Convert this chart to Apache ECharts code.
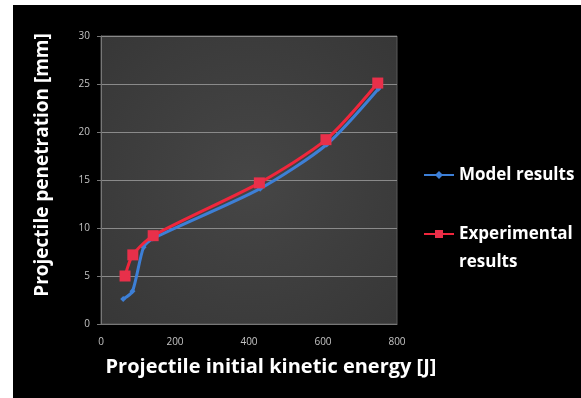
<!DOCTYPE html>
<html><head><meta charset="utf-8">
<script src="https://cdn.jsdelivr.net/npm/echarts@6/dist/echarts.min.js"></script>
<style>
html,body{margin:0;padding:0;background:#fff;width:581px;height:398px;overflow:hidden}
#chart{position:absolute;left:13px;top:5px;width:568px;height:393px}
</style></head><body>
<div id="chart"></div>
<script>
const xTicks = [0, 200, 400, 600, 800];
const yTicks = [0, 5, 10, 15, 20, 25, 30];
const modelEnergy = [60, 85, 115, 140, 430, 610, 750];
const modelPen = [2.6, 3.4, 8.0, 8.9, 14.1, 18.7, 24.5];
const expEnergy = [65, 86, 141, 428, 608, 748];
const expPen = [5.0, 7.2, 9.2, 14.7, 19.2, 25.1];
const seriesNames = ['Model results', 'Experimental results'];

const chart = echarts.init(document.getElementById('chart'));
const titleFont = '"Open Sans", Lato, sans-serif';
const legendText = { color: '#fff', fontFamily: titleFont, fontWeight: 'bold', fontSize: 17, lineHeight: 28 };
chart.setOption({
  backgroundColor: '#000',
  animation: false,
  grid: {
    left: 88, top: 31, right: 184, bottom: 74,
    show: true,
    borderColor: '#5a5a5a', borderWidth: 1,
    backgroundColor: {
      type: 'radial', x: 0.5, y: 0.5, r: 0.75,
      colorStops: [{offset: 0, color: '#464646'}, {offset: 1, color: '#363636'}]
    }
  },
  legend: [
    {
      orient: 'vertical', left: 405, top: 151,
      itemWidth: 30, itemHeight: 10, itemGap: 0,
      data: [seriesNames[0]],
      textStyle: legendText
    },
    {
      orient: 'vertical', left: 405, top: 182,
      itemWidth: 30, itemHeight: 10,
      data: [seriesNames[1]],
      formatter: () => ' \nExperimental\nresults',
      textStyle: legendText
    }
  ],
  xAxis: {
    type: 'value', min: xTicks[0], max: xTicks[xTicks.length - 1], interval: 200,
    name: 'Projectile initial kinetic energy [J]', nameLocation: 'middle', nameGap: 33,
    nameTextStyle: { color: '#fff', fontFamily: titleFont, fontWeight: 'bold', fontSize: 20, padding: [0, 0, 0, 44] },
    axisLine: { show: true, lineStyle: { color: '#777' } },
    axisTick: { show: false },
    splitLine: { show: false },
    axisLabel: { color: '#c4c4c4', fontSize: 10, margin: 13, fontFamily: '"Open Sans", sans-serif' }
  },
  yAxis: {
    type: 'value', min: yTicks[0], max: yTicks[yTicks.length - 1], interval: 5,
    name: 'Projectile penetration [mm]', nameLocation: 'middle', nameGap: 49,
    nameTextStyle: { color: '#fff', fontFamily: titleFont, fontWeight: 'bold', fontSize: 19, padding: [0, 0, 0, 30] },
    axisLine: { show: true, lineStyle: { color: '#777' } },
    axisTick: { show: true, length: 4, lineStyle: { color: '#777' } },
    splitLine: { show: true, lineStyle: { color: '#8a8a8a', width: 1 } },
    axisLabel: { color: '#c4c4c4', fontSize: 10, margin: 11, fontFamily: '"Open Sans", sans-serif' }
  },
  series: [
    {
      name: seriesNames[0], type: 'line', smooth: 0.25,
      data: modelEnergy.map((x, i) => [x, modelPen[i]]),
      symbol: 'diamond', symbolSize: 6,
      lineStyle: { color: '#3d7fd6', width: 3 },
      itemStyle: { color: '#3d7fd6' }, z: 2
    },
    {
      name: seriesNames[1], type: 'line', smooth: 0.25,
      data: expEnergy.map((x, i) => [x, expPen[i]]),
      symbol: 'rect', symbolSize: 11,
      lineStyle: { color: '#f0263c', width: 3 },
      itemStyle: { color: '#e8304a' }, z: 3
    }
  ]
});
</script></body></html>
